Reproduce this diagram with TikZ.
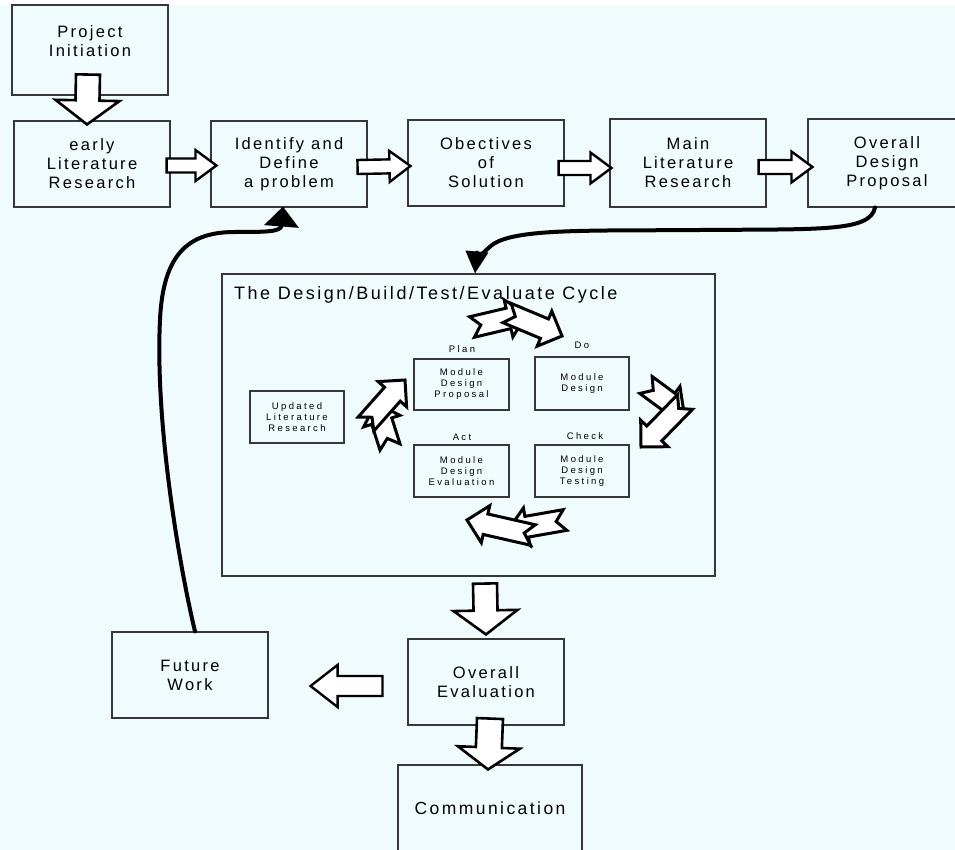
\documentclass[tikz,border=0pt]{standalone}
\usepackage{fontspec}
\setmainfont{Liberation Sans}
\newfontfamily\bigface[LetterSpace=14]{Liberation Sans}
\newfontfamily\smallface[LetterSpace=25]{Liberation Sans}
\usetikzlibrary{calc,arrows.meta}
\definecolor{paper}{RGB}{240,251,254}
\definecolor{frame}{RGB}{55,55,55}

\tikzset{
  box/.style={draw=frame, line width=1.1pt, align=center, inner sep=0pt},
  bigtext/.style={font=\bigface\fontsize{16.5}{19}\selectfont, align=center, inner sep=0pt},
  titletext/.style={font=\bigface\fontsize{18}{20}\selectfont, inner sep=0pt},
  smalltext/.style={font=\smallface\fontsize{9.5}{11}\selectfont, align=center, inner sep=0pt},
  commtext/.style={font=\bigface\fontsize{17.5}{20}\selectfont, inner sep=0pt},
  % outlined block arrow between two points, optional notched tail
  blockarrow/.style={draw=black, fill=white, line join=miter, to path={
      ($(\tikztostart)!\bw!90:(\tikztotarget)$)
      -- ($(\tikztotarget)!\bh!(\tikztostart)!\bw!-90:(\tikztostart)$)
      -- ($(\tikztotarget)!\bh!(\tikztostart)!\bH!-90:(\tikztostart)$)
      -- (\tikztotarget)
      -- ($(\tikztotarget)!\bh!(\tikztostart)!\bH!90:(\tikztostart)$)
      -- ($(\tikztotarget)!\bh!(\tikztostart)!\bw!90:(\tikztostart)$)
      -- ($(\tikztostart)!\bw!-90:(\tikztotarget)$)
      -- ($(\tikztostart)!\bn!(\tikztotarget)$)
      -- cycle}},
  hblock/.style={blockarrow, line width=2.4pt,
    /utils/exec={\def\bw{7pt}\def\bH{15.5pt}\def\bh{21pt}\def\bn{0pt}}},
  vblock/.style={blockarrow, line width=2.6pt,
    /utils/exec={\def\bw{12pt}\def\bH{32pt}\def\bh{24pt}\def\bn{0pt}}},
  lblock/.style={blockarrow, line width=2.4pt,
    /utils/exec={\def\bw{10pt}\def\bH{21pt}\def\bh{27pt}\def\bn{0pt}}},
  cycarrow/.style={blockarrow, line width=3pt,
    /utils/exec={\def\bw{10.5pt}\def\bH{19pt}\def\bh{19pt}\def\bn{9pt}}},
  curve/.style={line width=4pt, line cap=round}
}

\begin{document}
\begin{tikzpicture}[x=1pt,y=-1pt]
\useasboundingbox (0,0) rectangle (955,850);
\clip (0,0) rectangle (955,850);
\fill[paper] (0,0) rectangle (955,850);
\fill[white] (0,0) rectangle (955,5);

% top row of stages
\node[box, minimum width=156pt, minimum height=90pt] (pi) at (90,50) {};
\node[bigtext] (pit) at (90,41) {Project\\Initiation};
\node[box, bigtext, minimum width=156pt, minimum height=86pt] (el) at (92,164) {early\\Literature\\Research};
\node[box, bigtext, minimum width=156pt, minimum height=86pt] (idp) at (289,164) {Identify and\\Define\\a problem};
\node[box, bigtext, minimum width=156pt, minimum height=86pt] (obj) at (486,163) {Obectives\\of\\Solution};
\node[box, bigtext, minimum width=156pt, minimum height=88pt] (mlr) at (688,163) {Main\\Literature\\Research};
\node[box, minimum width=158pt, minimum height=88pt] (odp) at (887,163) {};
\node[bigtext] (odpt) at (887,163) {Overall\\Design\\Proposal};

% design/build/test/evaluate cycle
\node[box, minimum width=493pt, minimum height=302pt] (cyc) at (468.5,425) {};
\node[titletext, anchor=west] (cyct) at (234,295) {The Design/Build/Test/Evaluate Cycle};
\node[box, smalltext, minimum width=94pt, minimum height=52pt] (ulr) at (297,417) {Updated\\Literature\\Research};
\node[box, smalltext, minimum width=95pt, minimum height=51pt] (mdp) at (461.5,384.5) {Module\\Design\\Proposal};
\node[box, smalltext, minimum width=94pt, minimum height=53pt] (mdd) at (582,383.5) {Module\\Design};
\node[box, smalltext, minimum width=95pt, minimum height=52pt] (mde) at (461.5,471) {Module\\Design\\Evaluation};
\node[box, smalltext, minimum width=94pt, minimum height=52pt] (mdt) at (582,471) {Module\\Design\\Testing};
\node[smalltext] (lplan) at (462,349) {Plan};
\node[smalltext] (ldo) at (582,345) {Do};
\node[smalltext] (lact) at (462,437) {Act};
\node[smalltext] (lcheck) at (585,436) {Check};

% bottom stages
\node[box, bigtext, minimum width=156pt, minimum height=86pt] (fw) at (190,675) {Future\\Work};
\node[box, bigtext, minimum width=156pt, minimum height=86pt] (oe) at (486,682) {Overall\\Evaluation};
\node[box, minimum width=184pt, minimum height=92pt] (com) at (490,811) {};
\node[commtext] (comt) at (490,808) {Communication};

% block arrows between stages
\draw[vblock] ([yshift=21pt,xshift=-2pt]pi.south) to ([yshift=-4pt,xshift=-5pt]el.north);
\draw[hblock] ([xshift=-4pt,yshift=-1.5pt]el.east) to ([xshift=6pt,yshift=-1.5pt]idp.west);
\draw[hblock] ([xshift=-10pt,yshift=-3pt]idp.east) to ([xshift=3pt,yshift=-3pt]obj.west);
\draw[hblock] ([xshift=-6pt,yshift=-5pt]obj.east) to ([xshift=2pt,yshift=-5pt]mlr.west);
\draw[hblock] ([xshift=-8pt,yshift=-4pt]mlr.east) to ([xshift=5pt,yshift=-4pt]odp.west);
\draw[vblock] ([yshift=-7pt,xshift=16.5pt]cyc.south) to ([yshift=4pt]oe.north);
\draw[vblock, /utils/exec={\def\bw{13pt}\def\bH{31pt}\def\bh{22pt}}]
  ([yshift=7pt,xshift=4pt]oe.south) to ([yshift=-5pt,xshift=-2pt]com.north);
\draw[lblock] ([xshift=-25pt,yshift=-4pt]oe.west) to ([xshift=42pt,yshift=-11pt]fw.east);

% curved connectors
\draw[curve, -{Triangle[length=22pt,width=22pt]}]
  ([xshift=-12pt]odp.south) .. controls (870,232) and (820,229) .. (700,230)
  .. controls (590,231) and (515,228) .. (492,245)
  .. controls (481,254) and (476,262) .. ([xshift=6.5pt]cyc.north);
\draw[curve, -{Triangle[length=20pt,width=34pt]}]
  ([xshift=5pt]fw.north) .. controls (178,560) and (155,420) .. (160,320)
  .. controls (163,252) and (190,232) .. (235,232)
  .. controls (265,232) and (281,232) .. ([xshift=-6pt,yshift=1pt]idp.south);

% twisted cycle arrows around the PDCA boxes
\draw[cycarrow] (472,327) to (527,314);
\draw[cycarrow] (507,313) to (562,336);
\draw[cycarrow] (646,385) to (684,413);
\draw[cycarrow] (685,402) to (641,447);
\draw[cycarrow] (565,520) to (508,530);
\draw[cycarrow] (533,535) to (467,520);
\draw[cycarrow] (390,447) to (376,403);
\draw[cycarrow] (366,424) to (405,380);
\end{tikzpicture}
\end{document}
